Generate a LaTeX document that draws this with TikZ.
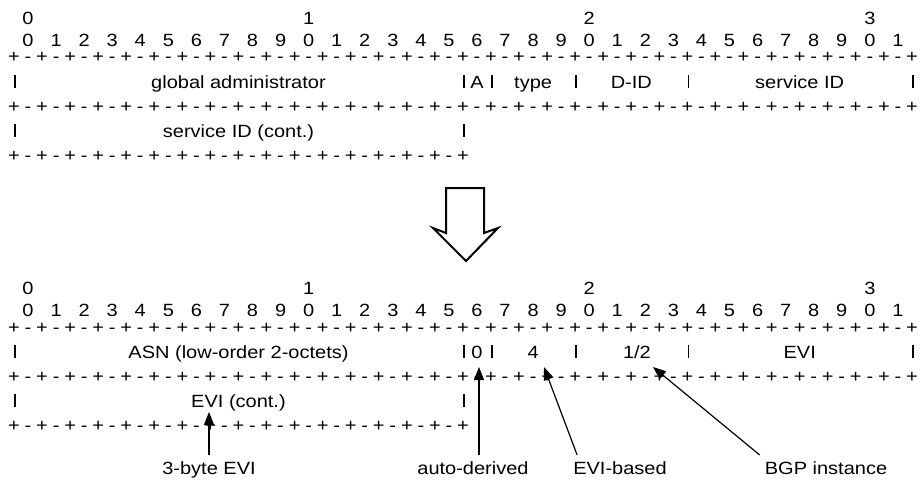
\documentclass[tikz,border=0pt]{standalone}
\usepackage{fontspec}
\setmainfont{Liberation Sans}[FakeStretch=1.13]
\usetikzlibrary{arrows.meta}
\def\ox{14}
\def\dx{28.06}
\newcommand{\pktframe}[2]{% #1 = y offset, #2 = name prefix
  \foreach \t in {0,1,2,3}{
    \node[txt] (#2-t\t) at ({\ox+\dx*(10*\t+0.5)},{#1+24.5}) {\t};
  }
  \foreach \i in {0,...,31}{
    \pgfmathtruncatemacro\dg{mod(\i,10)}
    \node[txt] (#2-u\i) at ({\ox+\dx*(\i+0.5)},{#1+46.5}) {\dg};
  }
  \pktsep{#1+63}{32}{#2-a}
  \pktsep{#1+112}{32}{#2-b}
  \pktsep{#1+161}{16}{#2-c}
}
\newcommand{\pktsep}[3]{% baseline, number of bits, prefix
  \foreach \i in {0,...,#2}{
    \node[txt] (#3p\i) at ({\ox+\dx*\i},{#1}) {+};
  }
  \pgfmathtruncatemacro\nlast{#2-1}
  \foreach \i in {0,...,\nlast}{
    \node[txt] (#3d\i) at ({\ox+\dx*(\i+0.5)},{#1}) {-};
  }
}
\newcommand{\pktbar}[2]{% bit boundary, baseline
  \draw[bar] ({\ox+\dx*#1+1},{#2}) -- ({\ox+\dx*#1+1},{#2-12.8});
}
\begin{document}
\begin{tikzpicture}[x=1pt,y=-1pt,
  txt/.style={inner sep=0pt, anchor=base, font=\fontsize{17.7}{20}\selectfont},
  bar/.style={line width=1.5pt},
  ptr/.style={line width=1.2pt, -{Triangle[length=13pt,width=10pt]}}]
\useasboundingbox[fill=white] (0,0) rectangle (920,487);

% ---------- upper format ----------
\pktframe{0}{up}
\foreach \b in {0,16,17,20,24,32}{\pktbar{\b}{88}}
\foreach \b in {0,16}{\pktbar{\b}{137}}
\node[txt] (ga)   at ({\ox+\dx*8},88)    {global administrator};
\node[txt] (aflg) at ({\ox+\dx*16.5},88) {A};
\node[txt] (typ)  at ({\ox+\dx*18.5},88) {type};
\node[txt] (did)  at ({\ox+\dx*22},88)   {D-ID};
\node[txt] (sid)  at ({\ox+\dx*28},88)   {service ID};
\node[txt] (sidc) at ({\ox+\dx*8},137)   {service ID (cont.)};

% ---------- big hollow arrow ----------
\draw[line width=2pt, line join=miter, fill=white]
  (446,188) -- (484,188) -- (484,233) -- (498,228) -- (466,261)
  -- (433,228) -- (446,233) -- cycle;

% ---------- lower format ----------
\pktframe{270}{lo}
\foreach \b in {0,16,17,20,24,32}{\pktbar{\b}{358}}
\foreach \b in {0,16}{\pktbar{\b}{407}}
\node[txt] (asn)  at ({\ox+\dx*8},358)    {ASN (low-order 2-octets)};
\node[txt] (zero) at ({\ox+\dx*16.5},358) {0};
\node[txt] (four) at ({\ox+\dx*18.5},358) {4};
\node[txt] (half) at ({\ox+\dx*22.2},358) {1/2};
\node[txt] (evi)  at ({\ox+\dx*28},358)   {EVI};
\node[txt] (evic) at ({\ox+\dx*8},407)    {EVI (cont.)};

% ---------- annotation labels ----------
\node[txt] (l3b)  at (209,474) {3-byte EVI};
\node[txt] (lad)  at (473,474) {auto-derived};
\node[txt] (lev)  at (620,474) {EVI-based};
\node[txt] (lbgp) at (826,474) {BGP instance};

\coordinate (t3b)  at (209,412);
\coordinate (tad)  at (479,367);
\coordinate (tev)  at (544,367);
\coordinate (tbgp) at (653,367);

\draw[ptr] ([yshift=6pt]l3b.north) -- (t3b);
\draw[ptr] ([xshift=6pt,yshift=6pt]lad.north) -- (tad);
\draw[ptr] ([xshift=4pt,yshift=6pt]lev.north west) -- (tev);
\draw[ptr] ([xshift=-5pt,yshift=6pt]lbgp.north west) -- (tbgp);
\end{tikzpicture}
\end{document}
